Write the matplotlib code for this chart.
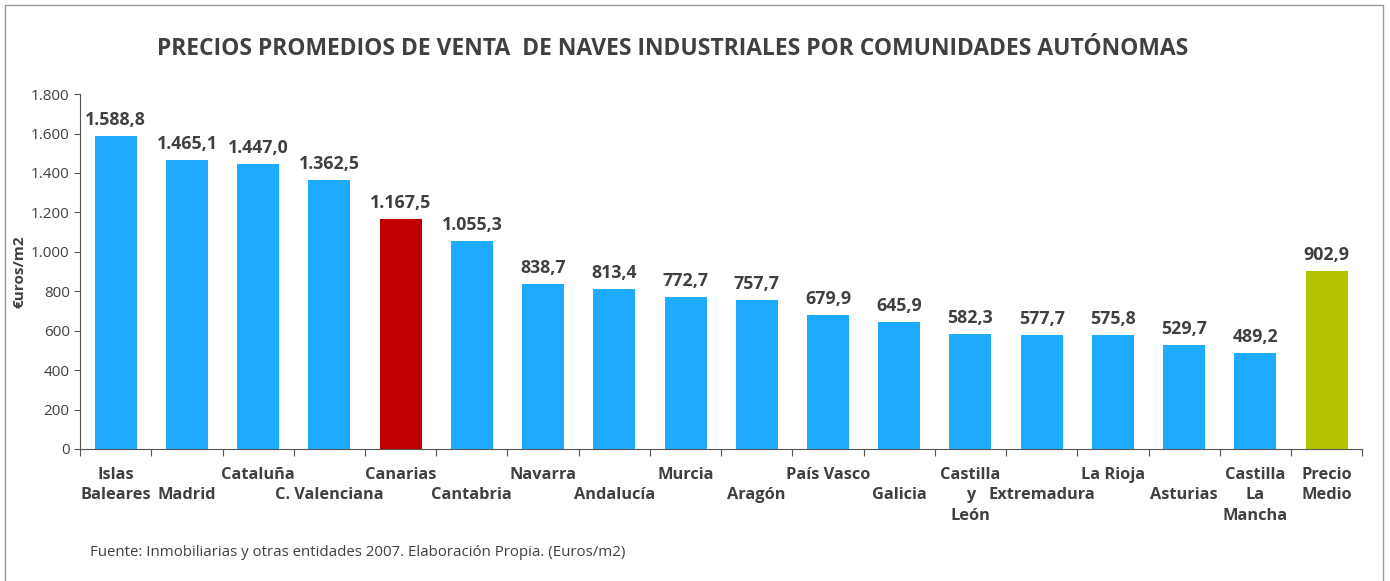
import matplotlib
matplotlib.use("Agg")
import matplotlib.pyplot as plt
from matplotlib.lines import Line2D
from matplotlib.ticker import FuncFormatter, FixedLocator

categories = ["Islas\nBaleares", "Madrid", "Cataluña", "C. Valenciana", "Canarias",
              "Cantabria", "Navarra", "Andalucía", "Murcia", "Aragón", "País Vasco",
              "Galicia", "Castilla\ny\nLeón", "Extremadura", "La Rioja", "Asturias",
              "Castilla\nLa\nMancha", "Precio\nMedio"]
values = [1588.8, 1465.1, 1447.0, 1362.5, 1167.5, 1055.3, 838.7, 813.4, 772.7,
          757.7, 679.9, 645.9, 582.3, 577.7, 575.8, 529.7, 489.2, 902.9]
yticks = [0, 200, 400, 600, 800, 1000, 1200, 1400, 1600, 1800]

title = "PRECIOS PROMEDIOS DE VENTA  DE NAVES INDUSTRIALES POR COMUNIDADES AUTÓNOMAS"
ylabel = "€uros/m2"
source = "Fuente: Inmobiliarias y otras entidades 2007. Elaboración Propia. (Euros/m2)"

BLUE = "#1EAAFF"
RED = "#C00000"
GREEN = "#B5C400"
TXT = "#404040"

plt.rcParams['font.family'] = ['Open Sans', 'DejaVu Sans']

fig = plt.figure(figsize=(13.9, 5.81), dpi=100)
ax = fig.add_axes([0.0576, 0.2272, 0.9224, 0.6108])

colors = [BLUE] * len(values)
colors[categories.index("Canarias")] = RED
colors[-1] = GREEN

x = list(range(len(values)))
ax.bar(x, values, width=0.59, color=colors, zorder=2)

def fmt_es(v, dec=1):
    s = f"{v:,.{dec}f}"
    return s.replace(",", "X").replace(".", ",").replace("X", ".")

for xi, v in zip(x, values):
    ax.annotate(fmt_es(v), (xi, v), xytext=(0, 7), textcoords="offset pixels",
                ha="center", va="bottom", fontsize=12.8, fontweight="bold", color=TXT)

ax.set_xlim(-0.5, len(values) - 0.5)
ax.set_ylim(0, 1800)
ax.set_yticks(yticks)
ax.yaxis.set_major_formatter(FuncFormatter(lambda v, p: fmt_es(v, 0)))
ax.tick_params(axis="y", labelsize=11, colors=TXT, length=4, direction="out")

ax.xaxis.set_major_locator(FixedLocator([i - 0.5 for i in range(len(values) + 1)]))
ax.xaxis.set_major_formatter(FuncFormatter(lambda v, p: ""))
ax.tick_params(axis="x", length=5, direction="out", color="#555555")
ax.tick_params(axis="y", color="#555555")

# staggered category labels, one text per line
LINE = 20.5
for i, c in enumerate(categories):
    row = 1 if (i % 2 == 1 and i != len(categories) - 1) else 0
    for k, part in enumerate(c.split("\n")):
        ax.annotate(part, (i, 0), xycoords=("data", "axes fraction"),
                    xytext=(0, -26 - (row + k) * LINE), textcoords="offset pixels",
                    ha="center", va="center", fontsize=11.8, fontweight="bold", color=TXT)

for s in ["top", "right"]:
    ax.spines[s].set_visible(False)
for s in ["left", "bottom"]:
    ax.spines[s].set_color("#555555")

ax.set_ylabel(ylabel, fontsize=11, fontweight="bold", color=TXT)
ax.yaxis.set_label_coords(-0.042, 0.5)

fig.text(0.484, 0.915, title, ha="center", va="center", fontsize=16.5,
         fontweight="bold", color=TXT)
fig.text(0.065, 0.049, source, ha="left", va="center", fontsize=10.8, color=TXT)

# frame (bottom edge cut off in the original)
W, H = 1390, 581
fx = [4.5 / W, 4.5 / W, 1383 / W, 1383 / W]
fy = [0.0, (H - 5) / H, (H - 5) / H, 0.0]
fig.add_artist(Line2D(fx, fy, transform=fig.transFigure, color="#999999", linewidth=1))

fig.savefig("out.png", dpi=100)
